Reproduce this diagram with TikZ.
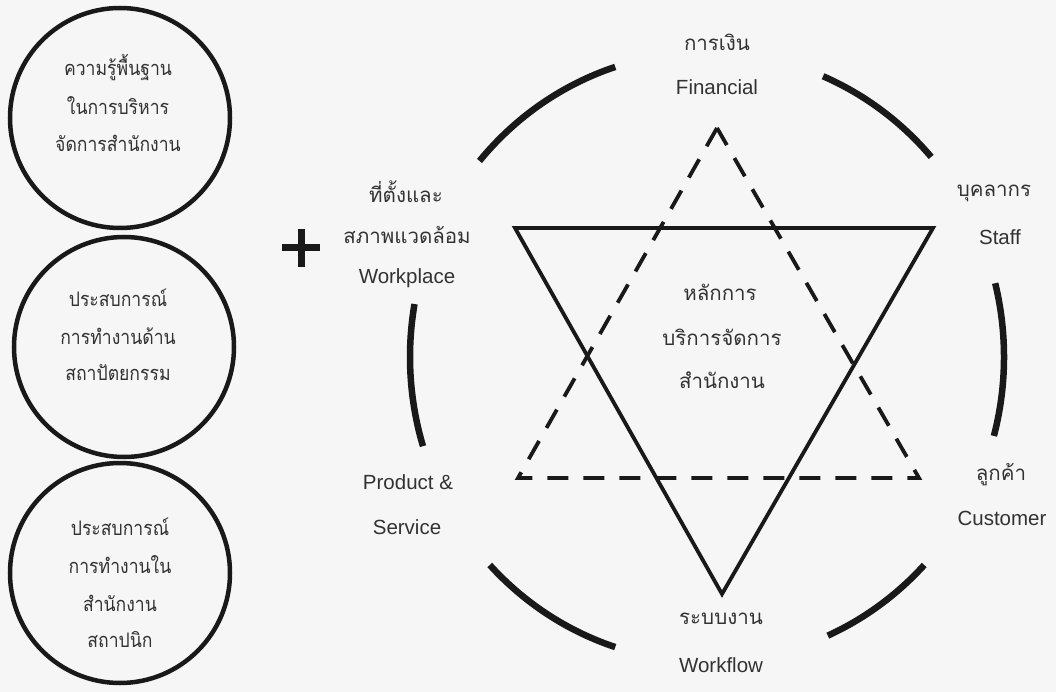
\documentclass[tikz,border=0pt]{standalone}
\usepackage{fontspec}
\setmainfont{Liberation Sans}
\newfontfamily\thai[Script=Thai]{Loma}
\newfontfamily\thainarrow[Script=Thai,FakeStretch=0.88]{Loma}
\definecolor{bg}{RGB}{246,246,246}
\definecolor{ink}{RGB}{25,25,25}
\definecolor{txt}{RGB}{50,50,50}
\begin{document}
\begin{tikzpicture}[x=1pt,y=-1pt,
  en/.style={text=txt,font=\fontsize{20.5}{24}\selectfont,inner sep=0pt,anchor=center},
  th/.style={text=txt,font=\thai\fontsize{20.5}{24}\selectfont,inner sep=0pt,anchor=center},
  thc/.style={text=txt,font=\thainarrow\fontsize{20}{24}\selectfont,inner sep=0pt,anchor=center},
  bubble/.style={circle,draw=ink,line width=4.5pt,minimum size=220pt,inner sep=0pt},
  ring/.style={draw=ink,line width=6.5pt},
  tri/.style={draw=ink,line width=3.8pt,line join=miter},
  dtri/.style={tri,dash pattern=on 21pt off 15pt}]
\fill[bg] (0,0) rectangle (1056,692);
\useasboundingbox (0,0) rectangle (1056,692);

% left circles
\node[bubble] (c1) at (120,118) {};
\node[bubble] (c2) at (124,347) {};
\node[bubble] (c3) at (120,573) {};
\node[thc] (c1a) at (118,68) {ความรู้พื้นฐาน};
\node[thc] (c1b) at (118,106) {ในการบริหาร};
\node[thc] (c1c) at (118,143) {จัดการสำนักงาน};
\node[thc] (c2a) at (118,298) {ประสบการณ์};
\node[thc] (c2b) at (118,336) {การทำงานด้าน};
\node[thc] (c2c) at (118,373) {สถาปัตยกรรม};
\node[thc] (c3a) at (120,527) {ประสบการณ์};
\node[thc] (c3b) at (120,565) {การทำงานใน};
\node[thc] (c3c) at (120,603) {สำนักงาน};
\node[thc] (c3d) at (120,640) {สถาปนิก};

% plus
\coordinate (plus) at (301,248);
\draw[ink,line width=7pt] (plus) ++(-19,0) -- ++(38,0);
\draw[ink,line width=7pt] (plus) ++(0,-19) -- ++(0,38);

% outer broken ring
\coordinate (O) at (707,357);
\foreach \a/\b in {108/140,41/67,-15/14,-66/-43,-137/-108,170/197}{
  \draw[ring] (O) ++({-\a}:{297} and {305}) arc[start angle={-\a},end angle={-\b},x radius=297,y radius=305];
}

% triangles
\coordinate (s1) at (515,228);
\coordinate (s2) at (933,228);
\coordinate (s3) at (722,594);
\draw[tri] (s1) -- (s2) -- (s3) -- cycle;
\coordinate (d1) at (717,128);
\coordinate (d2) at (518,478);
\coordinate (d3) at (919,478);
\draw[dtri] (d1) -- (d2) -- (d3) -- cycle;

% labels
\node[th] (fin1) at (717,42) {การเงิน};
\node[en] (fin2) at (717,87) {Financial};
\node[th] (wp1) at (406,192) {ที่ตั้งและ};
\node[th] (wp2) at (407,235) {สภาพแวดล้อม};
\node[en] (wp3) at (407,278) {Workplace};
\node[th] (st1) at (994,193) {บุคลากร};
\node[en] (st2) at (1000,237) {Staff};
\node[th] (cu1) at (1001,475) {ลูกค้า};
\node[en] (cu2) at (1002,518) {Customer};
\node[en] (ps1) at (408,482) {Product \&};
\node[en] (ps2) at (407,527) {Service};
\node[th] (wf1) at (721,619) {ระบบงาน};
\node[en] (wf2) at (721,665) {Workflow};
\node[th] (m1) at (720,292) {หลักการ};
\node[th] (m2) at (722,337) {บริการจัดการ};
\node[th] (m3) at (722,380) {สำนักงาน};
\end{tikzpicture}
\end{document}
